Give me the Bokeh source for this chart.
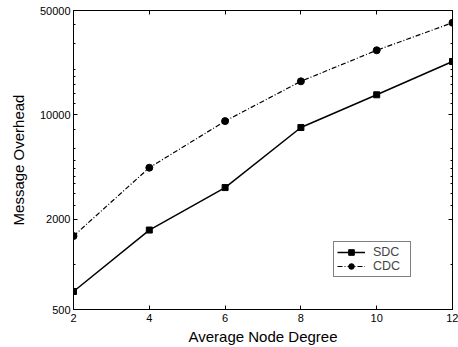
from bokeh.plotting import figure
from bokeh.models import (FixedTicker, LogAxis, LinearAxis, Range1d, BasicTickFormatter,
                          Legend, LegendItem, CustomJSTickFormatter)
from bokeh.embed import file_html
from bokeh.resources import INLINE

degree = [2, 4, 6, 8, 10, 12]
sdc = [660, 1700, 3270, 8250, 13650, 22800]
cdc = [1550, 4440, 9100, 16800, 27100, 41400]
x_ticks = [2, 4, 6, 8, 10, 12]
y_ticks = [500, 2000, 10000, 50000]
y_minor = [1000, 2500, 3000, 3500, 3900, 4400, 5000, 6000, 8000,
           12000, 14000, 16000, 18000, 20000, 30000, 40000]

FONT = "Liberation Sans"

p = figure(width=458, height=347, x_range=Range1d(2, 12), y_range=Range1d(500, 50000),
           y_axis_type="log", output_backend="svg", toolbar_location=None,
           min_border_left=73, min_border_right=6, min_border_top=10, min_border_bottom=38)
p.grid.visible = False
p.outline_line_color = "black"
p.outline_line_width = 1
p.background_fill_color = "white"
p.border_fill_color = "white"


def style(ax):
    ax.axis_line_color = "black"
    ax.major_tick_line_color = "black"
    ax.minor_tick_line_color = "black"
    ax.major_tick_in = 4
    ax.major_tick_out = 0
    ax.minor_tick_in = 2
    ax.minor_tick_out = 0
    ax.major_label_text_font = FONT
    ax.major_label_text_font_size = "11px"
    ax.major_label_text_color = "black"
    ax.axis_label_text_font = FONT
    ax.axis_label_text_font_size = "15px"
    ax.axis_label_text_font_style = "normal"
    ax.axis_label_text_color = "black"


xa = p.xaxis[0]
ya = p.yaxis[0]
style(xa)
style(ya)
xa.ticker = FixedTicker(ticks=x_ticks, minor_ticks=[])
ya.ticker = FixedTicker(ticks=y_ticks, minor_ticks=y_minor)
ya.formatter = BasicTickFormatter(use_scientific=False)
xa.axis_label = "Average Node Degree"
ya.axis_label = "Message Overhead"
xa.major_label_standoff = 4
ya.major_label_standoff = 3
xa.axis_label_standoff = 3
ya.axis_label_standoff = 10

blank = CustomJSTickFormatter(code="return '';")
top = LinearAxis(ticker=FixedTicker(ticks=x_ticks, minor_ticks=[]), formatter=blank)
right = LogAxis(ticker=FixedTicker(ticks=y_ticks, minor_ticks=y_minor), formatter=blank)
for ax in (top, right):
    style(ax)
    ax.major_label_standoff = 0
p.add_layout(top, "above")
p.add_layout(right, "right")

r1 = p.line(degree, sdc, line_color="black", line_width=1.5)
s1 = p.scatter(degree, sdc, marker="square", size=6, color="black")
r2 = p.line(degree, cdc, line_color="black", line_width=1.2, line_dash="5 2 1 2")
s2 = p.scatter(degree, cdc, marker="circle", size=7, color="black")

legend = Legend(items=[LegendItem(label="SDC", renderers=[r1, s1]),
                       LegendItem(label="CDC", renderers=[r2, s2])],
                location=(260, 32))
legend.border_line_color = "black"
legend.border_line_width = 1
legend.background_fill_color = "white"
legend.background_fill_alpha = 1
legend.label_text_font = FONT
legend.label_text_font_size = "12.5px"
legend.glyph_width = 28
legend.glyph_height = 14
legend.label_height = 14
legend.label_width = 34
legend.label_standoff = 8
legend.spacing = 0
legend.padding = 3
legend.margin = 0
p.add_layout(legend)

open("out.html", "w").write(file_html(p, INLINE))
